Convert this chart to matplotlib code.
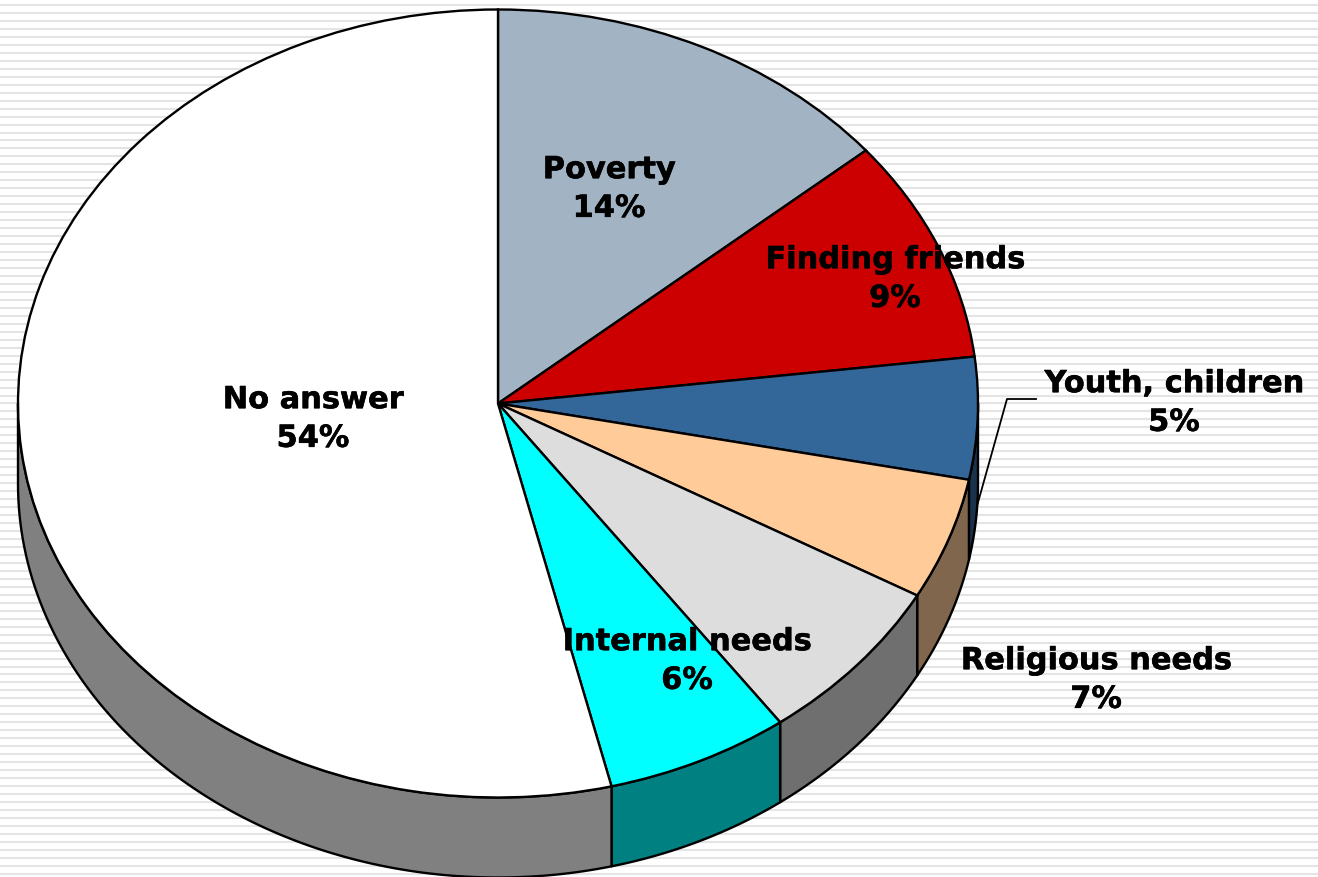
#!/usr/bin/python3
import numpy as np
import matplotlib
matplotlib.use("Agg")
import matplotlib.pyplot as plt
from matplotlib.colors import to_rgb
from matplotlib.patheffects import withStroke
from matplotlib.transforms import Affine2D

# datos, sentido horario desde arriba
categorias = ["Poverty", "Finding friends", "Youth, children", "", "Religious needs", "Internal needs", "No answer"]
valores = [13.9, 9.2, 5.0, 5.0, 6.9, 6.2, 53.8]
colores = ["#A2B3C4", "#CC0000", "#336699", "#FFCC99", "#DDDDDD", "#00FFFF", "#FFFFFF"]

# geometria en pixeles de la imagen
ANCHO, ALTO = 1318, 877
CX, CY, RX, RY = 498, 403.5, 480, 394
PROF = 80 / RY

# centro de cada etiqueta
pos_etiquetas = [(609, 189), (895, 279), (1174, 403), None, (1096, 680), (687, 661), (313, 419)]

fig = plt.figure(figsize=(ANCHO / 100, ALTO / 100), dpi=100)
ax = fig.add_axes([0, 0, 1, 1])
px = Affine2D().scale(1 / ANCHO, -1 / ALTO).translate(0, 1) + fig.transFigure

# fondo rayado
for y in np.arange(5, ALTO, 7.97):
    ax.plot([0, ANCHO], [y, y], transform=px, color="#E4E4E4", lw=1.5, zorder=0)

# pared lateral, solo la mitad de delante
fracciones = np.cumsum([0] + valores) / sum(valores)
for i in range(len(valores)):
    t0 = max(fracciones[i] * 2 * np.pi, np.pi / 2)
    t1 = min(fracciones[i + 1] * 2 * np.pi, 3 * np.pi / 2)
    if t1 <= t0:
        continue
    t = np.linspace(t0, t1, 120)
    x = np.sin(t)
    y = np.cos(t)
    oscuro = tuple(c * 0.5 for c in to_rgb(colores[i]))
    ax.fill(np.r_[x, x[::-1]], np.r_[y, y[::-1] - PROF], facecolor=oscuro,
            edgecolor="black", lw=1.7, joinstyle="round", zorder=1)

ax.pie(valores, colors=colores, startangle=90, counterclock=False, radius=1,
       wedgeprops={"edgecolor": "black", "linewidth": 1.7, "zorder": 2})
ax.set_aspect("auto")
ax.set_xlim(-CX / RX, (ANCHO - CX) / RX)
ax.set_ylim((CY - ALTO) / RY, CY / RY)
ax.axis("off")

# linea guia de Youth, children
ax.plot([1036, 1007, 977], [399, 399, 506], transform=px, color="black", lw=1.3, zorder=3)

for nombre, valor, pos in zip(categorias, valores, pos_etiquetas):
    if pos is None:
        continue
    ax.text(pos[0], pos[1], "%s\n%.0f%%" % (nombre, valor), transform=px, ha="center", va="center",
            fontsize=21.9, fontweight="bold", family="DejaVu Sans", color="black",
            linespacing=1.42, zorder=4,
            path_effects=[withStroke(linewidth=0.4, foreground="black")])

fig.savefig("out.png", dpi=100, facecolor="white")
